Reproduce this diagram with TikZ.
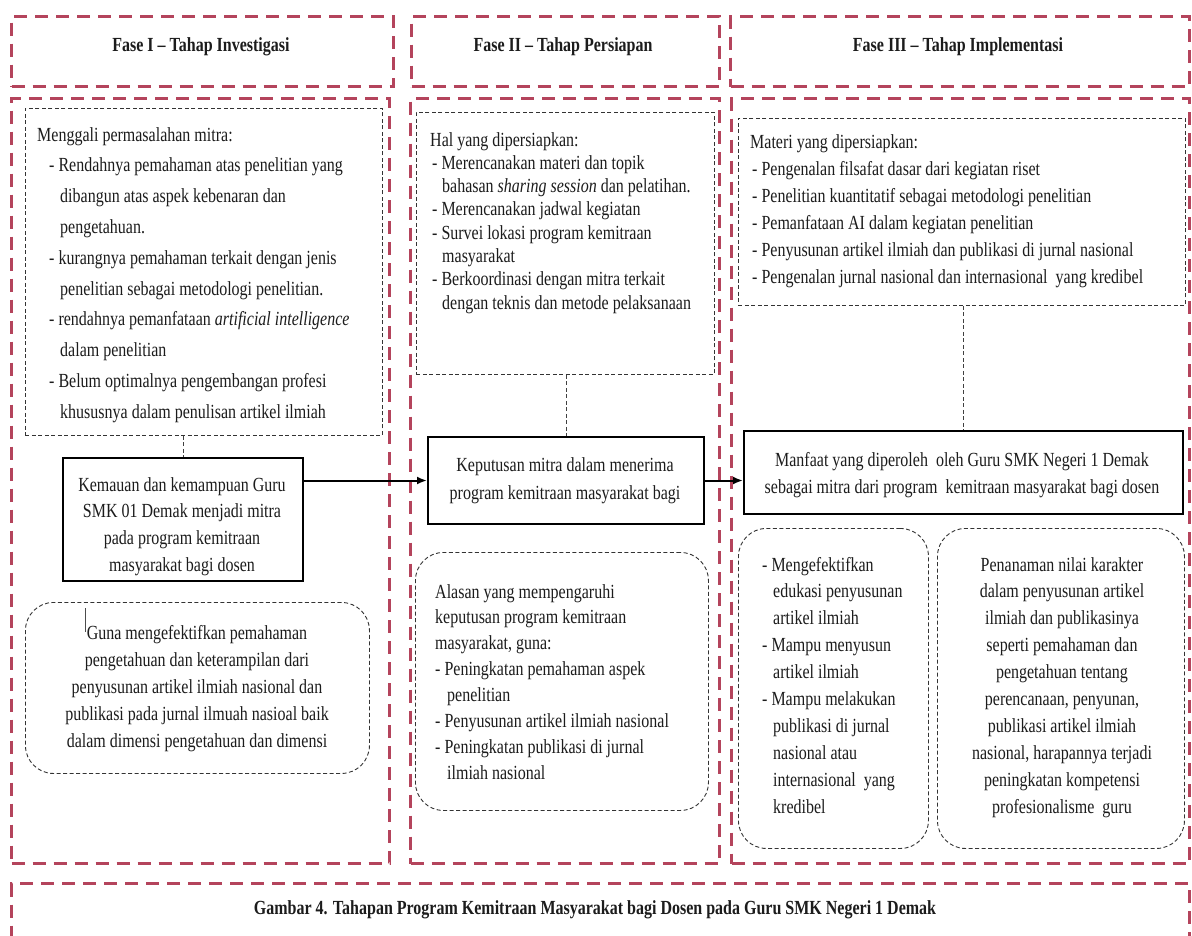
\documentclass[tikz,border=0pt]{standalone}
\usepackage{fontspec}
\setmainfont{Liberation Serif}[FakeStretch=0.8]
\usetikzlibrary{arrows.meta}
\definecolor{phasered}{RGB}{180,68,92}
\definecolor{ink}{RGB}{28,28,28}
\tikzset{
  phasebox/.style={draw=phasered, line width=3.2pt, dash pattern=on 13pt off 8pt, inner sep=0pt, anchor=north west},
  notebox/.style={draw=black!80, line width=0.9pt, dash pattern=on 4pt off 2.5pt, inner sep=0pt, anchor=north west},
  roundnote/.style={notebox, rounded corners=28pt},
  keybox/.style={draw=black, line width=2pt, inner sep=0pt, anchor=north west},
  linkline/.style={draw=black!75, line width=0.9pt, dash pattern=on 4pt off 2.5pt},
  flow/.style={draw=black, line width=2pt, -{Latex[length=10pt,width=8pt]}},
  txt/.style={inner sep=0pt, text=ink},
  ltxt/.style={txt, anchor=base west},
  ctxt/.style={txt, anchor=base},
}
\newcommand{\itm}{\hspace*{12pt}- }
\newcommand{\cnt}{\hspace*{23pt}}
\begin{document}
\begin{tikzpicture}[x=1pt,y=-1pt]
\useasboundingbox (0,0) rectangle (1192,935);
\clip (0,0) rectangle (1192,935);
\fill[white] (0,0) rectangle (1192,935);

% phase frames
\node[phasebox, minimum width=382pt, minimum height=70pt] (h1) at (10,15) {};
\node[phasebox, minimum width=308pt, minimum height=70pt] (h2) at (410,15) {};
\node[phasebox, minimum width=459pt, minimum height=70pt] (h3) at (729,15) {};
\node[phasebox, minimum width=378pt, minimum height=765pt] (b1) at (10,97) {};
\node[phasebox, minimum width=309pt, minimum height=765pt] (b2) at (409,97) {};
\node[phasebox, minimum width=458pt, minimum height=765pt] (b3) at (730,97) {};
\node[phasebox, minimum width=1178pt, minimum height=80pt] (cap) at (10,882) {};

% headers
\node[ctxt] (h1t) at (201,51) {\fontsize{20}{22}\selectfont\bfseries Fase I -- Tahap Investigasi};
\node[ctxt] (h2t) at (563,51) {\fontsize{20}{22}\selectfont\bfseries Fase II -- Tahap Persiapan};
\node[ctxt] (h3t) at (958,51) {\fontsize{20}{22}\selectfont\bfseries Fase III -- Tahap Implementasi};
\node[ctxt] (capt) at (595,914) {\fontsize{20}{22}\selectfont\bfseries Gambar 4. Tahapan Program Kemitraan Masyarakat bagi Dosen pada Guru SMK Negeri 1 Demak};

% column 1
\node[notebox, minimum width=357pt, minimum height=327pt] (c1note) at (25,108) {};
\node[keybox, minimum width=240pt, minimum height=123pt] (kem) at (62,457) {};
\node[roundnote, minimum width=344pt, minimum height=171pt] (c1round) at (25,602) {};

\node[ltxt] (c1notet) at (37,141) {\parbox[t]{345pt}{\raggedright\fontsize{20}{30.8}\selectfont
Menggali permasalahan mitra:\\
\itm Rendahnya pemahaman atas penelitian yang\\
\cnt dibangun atas aspek kebenaran dan\\
\cnt pengetahuan.\\
\itm kurangnya pemahaman terkait dengan jenis\\
\cnt penelitian sebagai metodologi penelitian.\\
\itm rendahnya pemanfataan \textit{artificial intelligence}\\
\cnt dalam penelitian\\
\itm Belum optimalnya pengembangan profesi\\
\cnt khususnya dalam penulisan artikel ilmiah}};

\node[ctxt] (kemt) at (182,491) {\parbox[t]{236pt}{\centering\fontsize{20}{26.7}\selectfont
Kemauan dan kemampuan Guru\\
SMK 01 Demak menjadi mitra\\
pada program kemitraan\\
masyarakat bagi dosen}};

\node[ctxt] (c1roundt) at (197,639) {\parbox[t]{340pt}{\centering\fontsize{20}{27.2}\selectfont
Guna mengefektifkan pemahaman\\
pengetahuan dan keterampilan dari\\
penyusunan artikel ilmiah nasional dan\\
publikasi pada jurnal ilmuah nasioal baik\\
dalam dimensi pengetahuan dan dimensi}};
\draw[black!70, line width=0.8pt] (85,608) -- (85,632);

% column 2
\node[notebox, minimum width=298pt, minimum height=262pt] (c2note) at (416,112) {};
\node[keybox, minimum width=276pt, minimum height=87pt] (kep) at (427,436) {};
\node[roundnote, minimum width=293pt, minimum height=258pt] (c2round) at (415,552) {};

\node[ltxt] (c2notet) at (430,146) {\parbox[t]{285pt}{\raggedright\fontsize{20}{23.3}\selectfont
Hal yang dipersiapkan:\\
\hspace*{2pt}- Merencanakan materi dan topik\\
\hspace*{12pt}bahasan \textit{sharing session} dan pelatihan.\\
\hspace*{2pt}- Merencanakan jadwal kegiatan\\
\hspace*{2pt}- Survei lokasi program kemitraan\\
\hspace*{12pt}masyarakat\\
\hspace*{2pt}- Berkoordinasi dengan mitra terkait\\
\hspace*{12pt}dengan teknis dan metode pelaksanaan}};

\node[ctxt] (kept) at (565,471) {\parbox[t]{272pt}{\centering\fontsize{20}{28}\selectfont
Keputusan mitra dalam menerima\\
program kemitraan masyarakat bagi}};

\node[ltxt] (c2roundt) at (435,598) {\parbox[t]{270pt}{\raggedright\fontsize{20}{25.9}\selectfont
Alasan yang mempengaruhi\\
keputusan program kemitraan\\
masyarakat, guna:\\
- Peningkatan pemahaman aspek\\
\hspace*{12pt}penelitian\\
- Penyusunan artikel ilmiah nasional\\
- Peningkatan publikasi di jurnal\\
\hspace*{12pt}ilmiah nasional}};

% column 3
\node[notebox, minimum width=447pt, minimum height=187pt] (c3note) at (738,118) {};
\node[keybox, minimum width=439pt, minimum height=83pt] (man) at (743,430) {};
\node[roundnote, minimum width=190pt, minimum height=320pt] (c3left) at (738,528) {};
\node[roundnote, minimum width=247pt, minimum height=320pt] (c3right) at (937,528) {};

\node[ltxt] (c3notet) at (750,148) {\parbox[t]{430pt}{\raggedright\fontsize{20}{27}\selectfont
Materi yang dipersiapkan:\\
\hspace*{2pt}- Pengenalan filsafat dasar dari kegiatan riset\\
\hspace*{2pt}- Penelitian kuantitatif sebagai metodologi penelitian\\
\hspace*{2pt}- Pemanfataan AI dalam kegiatan penelitian\\
\hspace*{2pt}- Penyusunan artikel ilmiah dan publikasi di jurnal nasional\\
\hspace*{2pt}- Pengenalan jurnal nasional dan internasional\ \ yang kredibel}};

\node[ctxt] (mant) at (962,466) {\parbox[t]{435pt}{\centering\fontsize{20}{27}\selectfont
Manfaat yang diperoleh\ \ oleh Guru SMK Negeri 1 Demak\\
sebagai mitra dari program\ \ kemitraan masyarakat bagi dosen}};

\node[ltxt] (c3leftt) at (762,571) {\parbox[t]{170pt}{\raggedright\fontsize{20}{26.9}\selectfont
- Mengefektifkan\\
\hspace*{11pt}edukasi penyusunan\\
\hspace*{11pt}artikel ilmiah\\
- Mampu menyusun\\
\hspace*{11pt}artikel ilmiah\\
- Mampu melakukan\\
\hspace*{11pt}publikasi di jurnal\\
\hspace*{11pt}nasional atau\\
\hspace*{11pt}internasional\ \ yang\\
\hspace*{11pt}kredibel}};

\node[ctxt] (c3rightt) at (1062,571) {\parbox[t]{240pt}{\centering\fontsize{20}{26.9}\selectfont
Penanaman nilai karakter\\
dalam penyusunan artikel\\
ilmiah dan publikasinya\\
seperti pemahaman dan\\
pengetahuan tentang\\
perencanaan, penyunan,\\
publikasi artikel ilmiah\\
nasional, harapannya terjadi\\
peningkatan kompetensi\\
profesionalisme\ \ guru}};

% connectors
\draw[linkline] (c1note.south -| kem.north) -- (kem.north);
\draw[linkline] (c2note.south -| kep.north) -- (kep.north);
\draw[linkline] (c3note.south -| man.north) -- (man.north);
\draw[flow] (kem.east |- kep.west) -- (kep.west);
\draw[flow] (kep.east) -- (kep.east -| man.west);
\end{tikzpicture}
\end{document}
